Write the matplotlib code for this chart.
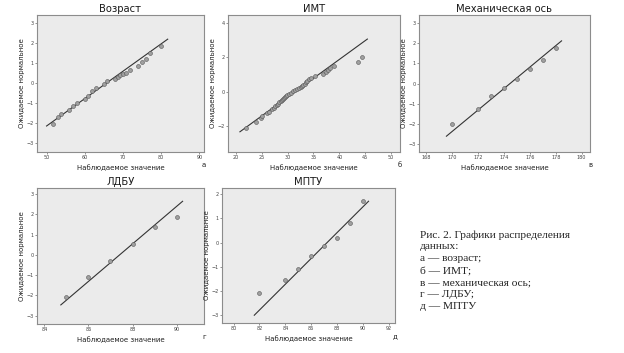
import matplotlib.pyplot as plt
import numpy as np

# ---- данные ----
# а - возраст
age_x = [51.7, 53.0, 53.9, 55.8, 57.0, 58.0, 60.0, 60.9, 61.9, 62.9, 65.0, 65.8,
         67.8, 68.7, 69.3, 70.0, 70.7, 71.9, 73.8, 75.0, 75.9, 77.0, 80.0]
age_y = [-2.06, -1.72, -1.56, -1.33, -1.16, -1.00, -0.81, -0.65, -0.40, -0.23, -0.03, 0.08,
         0.22, 0.30, 0.38, 0.43, 0.50, 0.66, 0.86, 1.04, 1.21, 1.51, 1.84]
age_line = [50.0, 81.7]

# б - ИМТ
imt_x = [21.9, 24.0, 24.9, 25.1, 26.1, 26.4, 27.0, 27.3, 27.6, 27.9, 28.2, 28.4,
         28.7, 28.9, 29.1, 29.3, 29.5, 29.7, 29.9, 30.2, 30.6, 31.0, 31.4, 31.9,
         32.2, 32.5, 32.8, 33.0, 33.3, 33.5, 33.8, 34.2, 34.6, 35.2, 36.9, 37.4,
         37.8, 38.1, 39.0, 43.5, 44.4]
imt_y = [-2.08, -1.75, -1.55, -1.42, -1.25, -1.15, -1.00, -0.92, -0.84, -0.76, -0.69, -0.62,
         -0.56, -0.50, -0.44, -0.38, -0.32, -0.26, -0.20, -0.14, -0.08, 0.02, 0.08, 0.14,
         0.20, 0.27, 0.34, 0.41, 0.48, 0.56, 0.64, 0.73, 0.83, 0.95, 1.05, 1.16,
         1.27, 1.38, 1.52, 1.73, 2.03]
imt_line = [20.8, 45.4]

# в - механическая ось
axis_x = [170, 172, 173, 174, 175, 176, 177, 178]
axis_y = [-2.03, -1.25, -0.63, -0.20, 0.23, 0.72, 1.17, 1.75]
axis_line = [169.55, 178.45]

# г - ЛДБУ
ldbu_x = [85, 86, 87, 88, 89, 90]
ldbu_y = [-2.07, -1.12, -0.30, 0.55, 1.37, 1.85]
ldbu_line = [84.75, 90.27]

# д - МПТУ
mptu_x = [82, 84, 85, 86, 87, 88, 89, 90]
mptu_y = [-2.08, -1.56, -1.10, -0.56, -0.13, 0.18, 0.81, 1.71]
mptu_line = [81.6, 90.45]

W, H = 624, 353
fig = plt.figure(figsize=(W / 100, H / 100), dpi=100)
fig.patch.set_facecolor('white')


def px_axes(x0, y0, x1, y1):
    return fig.add_axes([x0 / W, 1 - y1 / H, (x1 - x0) / W, (y1 - y0) / H])


panels = [
    # title, x, y, line x-range, (mean, sd), box, xlim, ylim, xticks, yticks, letter
    ('Возраст', age_x, age_y, age_line, (65.7, 7.3), (37, 15, 204, 152),
     (47.5, 91.2), (-3.45, 3.4), [50, 60, 70, 80, 90], [-3, -2, -1, 0, 1, 2, 3], 'а'),
    ('ИМТ', imt_x, imt_y, imt_line, (31.4, 4.56), (228, 15, 400, 152),
     (18.5, 51.7), (-3.5, 4.47), [20, 25, 30, 35, 40, 45, 50], [-2, 0, 2, 4], 'б'),
    ('Механическая ось', axis_x, axis_y, axis_line, (174.47, 1.87), (419, 15, 590, 152),
     (167.43, 180.65), (-3.42, 3.42), [168, 170, 172, 174, 176, 178, 180],
     [-3, -2, -1, 0, 1, 2, 3], 'в'),
    ('ЛДБУ', ldbu_x, ldbu_y, ldbu_line, (87.42, 1.078), (37, 188, 204, 324),
     (83.67, 91.24), (-3.42, 3.3), [84, 86, 88, 90], [-3, -2, -1, 0, 1, 2, 3], 'г'),
    ('МПТУ', mptu_x, mptu_y, mptu_line, (87.24, 1.875), (222, 188, 395, 323),
     (79.1, 92.5), (-3.33, 2.26), [80, 82, 84, 86, 88, 90, 92], [-3, -2, -1, 0, 1, 2], 'д'),
]

for title, xs, ys, lx, (mu, sd), box, xlim, ylim, xt, yt, letter in panels:
    ax = px_axes(*box)
    ax.set_facecolor('#ebebeb')
    lx = np.array(lx)
    ax.plot(lx, (lx - mu) / sd, color='#333333', linewidth=0.8, zorder=2)
    ax.scatter(xs, ys, s=8, facecolor='#a0a0a0', edgecolor='#555555',
               linewidth=0.4, zorder=3)
    ax.set_xlim(*xlim)
    ax.set_ylim(*ylim)
    ax.set_xticks(xt)
    ax.set_yticks(yt)
    ax.tick_params(labelsize=3.5, length=1.5, width=0.4, pad=1, colors='#444444')
    for s in ax.spines.values():
        s.set_color('#8c8c8c')
        s.set_linewidth(0.8)
    ax.set_title(title, fontsize=7.2, color='#1a1a1a', pad=2)
    ax.set_xlabel('Наблюдаемое значение', fontsize=5, color='#222222', labelpad=3)
    ax.set_ylabel('Ожидаемое нормальное', fontsize=5, color='#222222', labelpad=1)
    x1, y1 = box[2], box[3]
    fig.text(x1 / W, 1 - (y1 + 13) / H, letter, fontsize=5, ha='center', va='center',
             color='#222222')

caption = ['Рис. 2. Графики распределения', 'данных:', 'а — возраст;', 'б — ИМТ;',
           'в — механическая ось;', 'г — ЛДБУ;', 'д — МПТУ']
for i, line in enumerate(caption):
    fig.text(420 / W, 1 - (235 + i * 11.9) / H, line, fontsize=8.2,
             family='Liberation Serif', ha='left', va='center', color='#222222')

fig.savefig('out.png', dpi=100)
